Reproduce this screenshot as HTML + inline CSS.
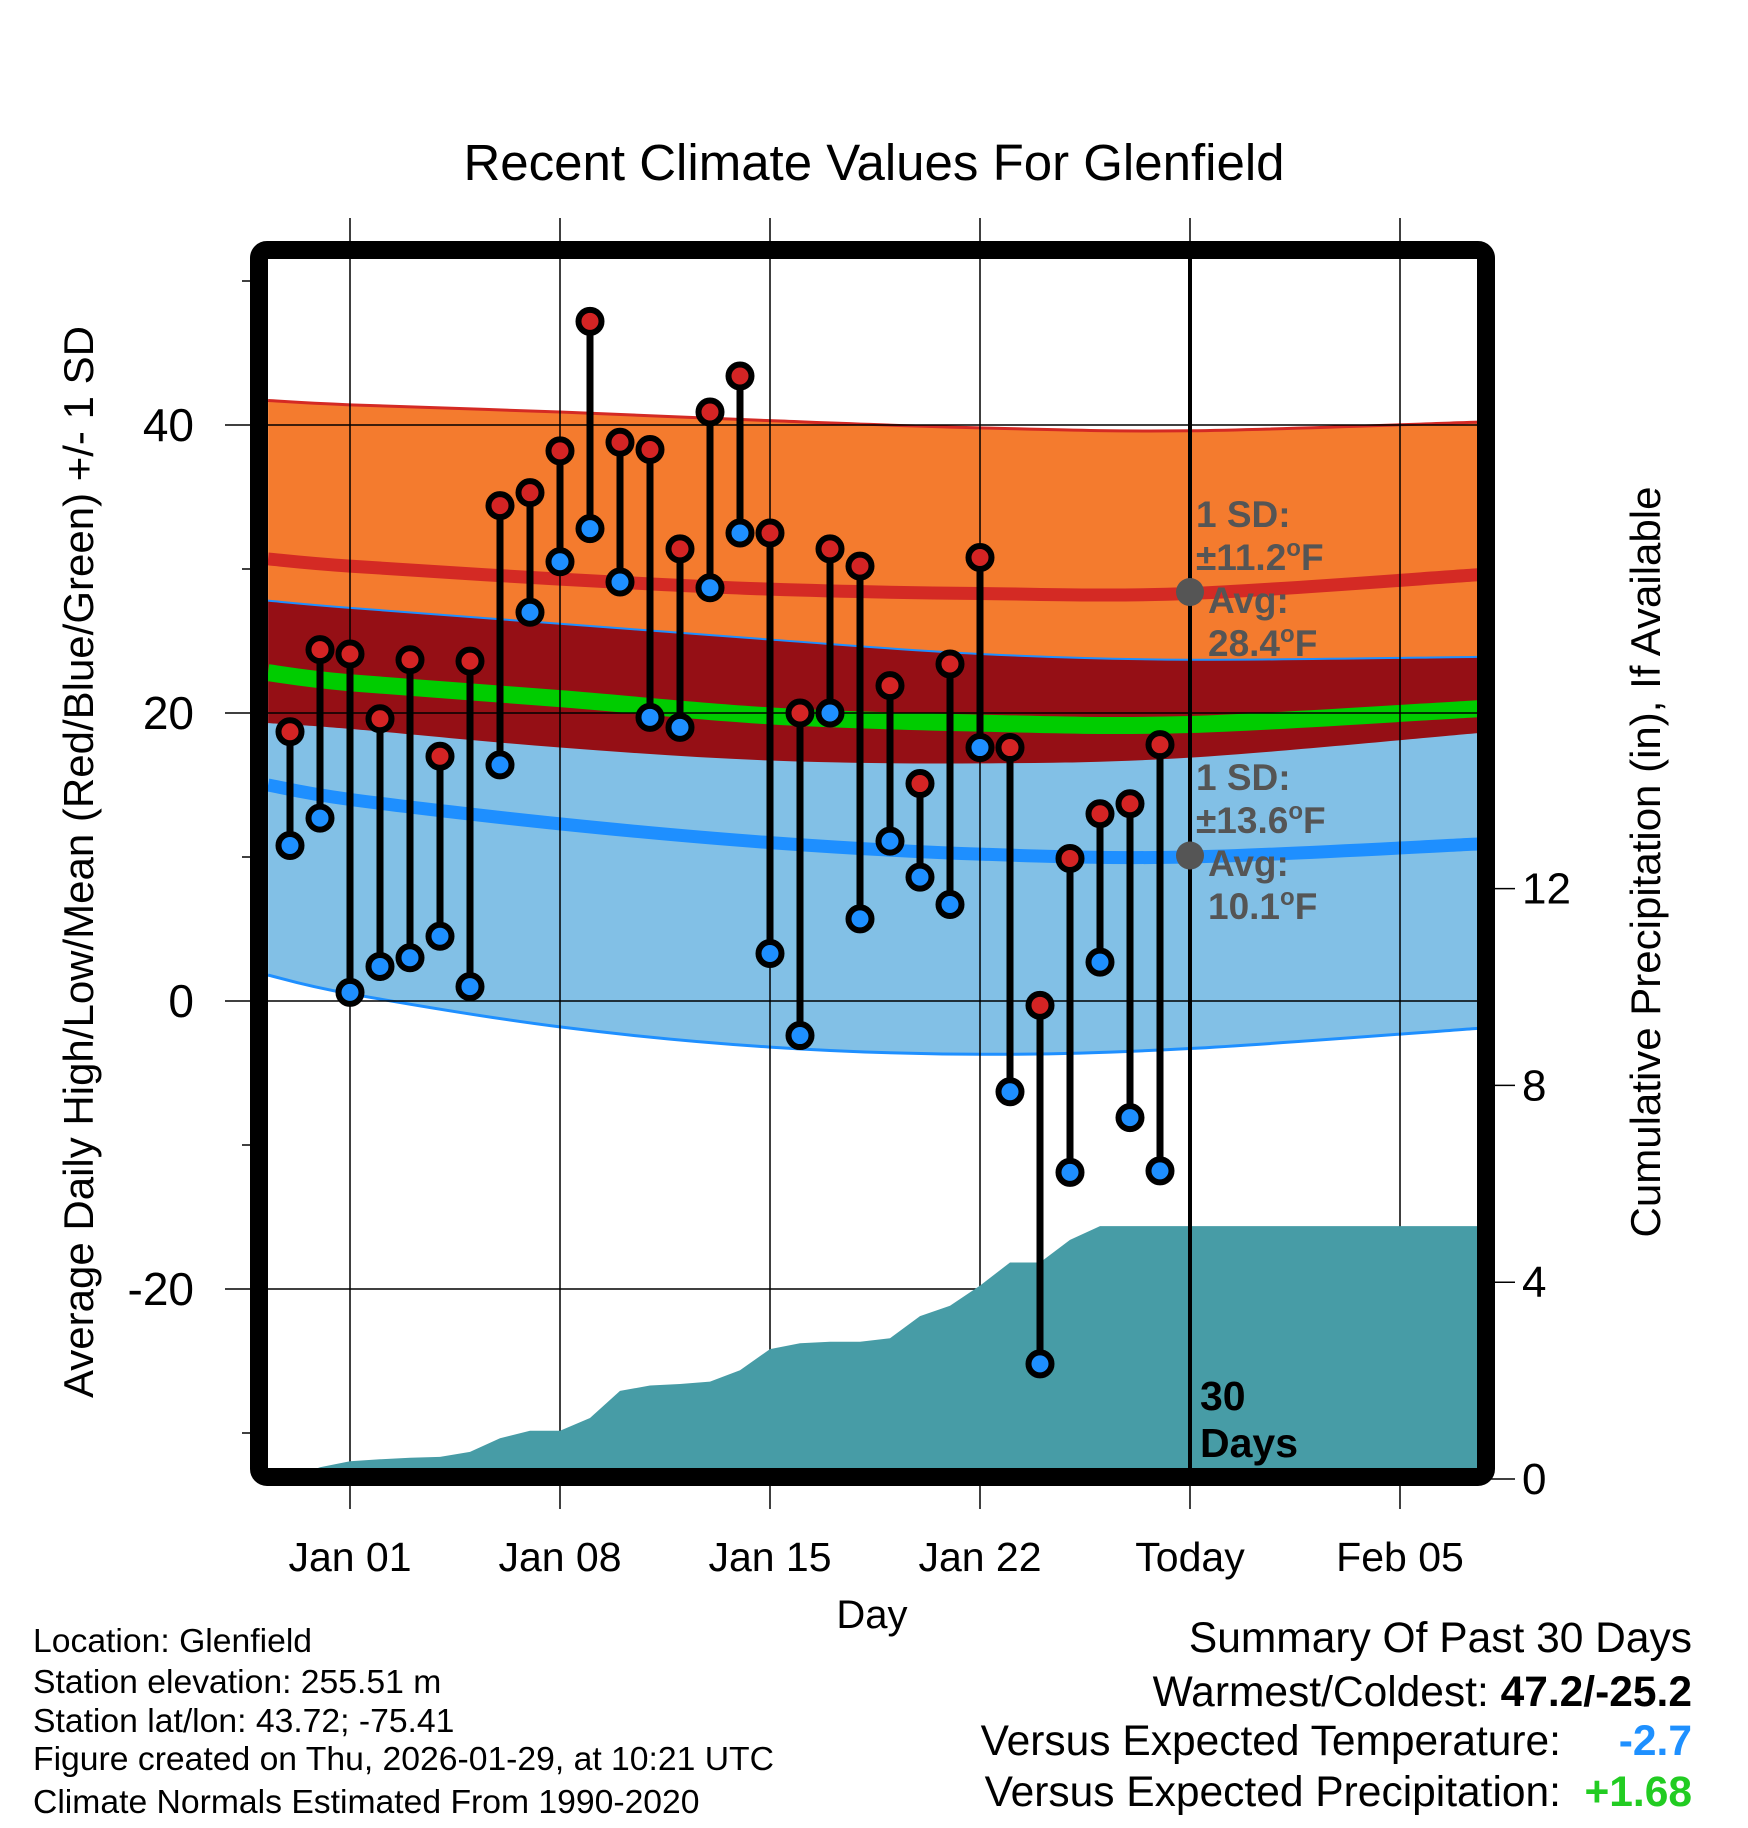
<!DOCTYPE html>
<html><head><meta charset="utf-8"><style>
html,body{margin:0;padding:0;background:#fff}
svg{display:block}
text{font-family:"Liberation Sans",sans-serif}
</style></head><body>
<svg id="chart" width="1748" height="1828" viewBox="0 0 1748 1828" xmlns="http://www.w3.org/2000/svg">
<defs><clipPath id="plotclip"><rect x="268" y="259" width="1210" height="1209"/></clipPath></defs>
<text x="874" y="180" font-size="51" text-anchor="middle">Recent Climate Values For Glenfield</text>
<g id="plot" clip-path="url(#plotclip)"></g>
<g id="over"></g>
<text transform="translate(93,862) rotate(-90)" font-size="42" text-anchor="middle">Average Daily High/Low/Mean (Red/Blue/Green) +/- 1 SD</text>
<text transform="translate(1660,862) rotate(-90)" font-size="42" text-anchor="middle">Cumulative Precipitation (in), If Available</text>
<text x="872" y="1628" font-size="40" text-anchor="middle">Day</text>
<g font-size="33.7">
<text x="33" y="1652">Location: Glenfield</text>
<text x="33" y="1693">Station elevation: 255.51 m</text>
<text x="33" y="1732">Station lat/lon: 43.72; -75.41</text>
<text x="33" y="1770">Figure created on Thu, 2026-01-29, at 10:21 UTC</text>
<text x="33" y="1813">Climate Normals Estimated From 1990-2020</text>
</g>
<g font-size="42.5">
<text x="1692" y="1652" text-anchor="end">Summary Of Past 30 Days</text>
<text x="1692" y="1706" text-anchor="end">Warmest/Coldest: <tspan font-weight="bold">47.2/-25.2</tspan></text>
<text x="1561" y="1755" text-anchor="end">Versus Expected Temperature:</text>
<text x="1692" y="1755" text-anchor="end" font-weight="bold" fill="#1e90ff">-2.7</text>
<text x="1561" y="1806" text-anchor="end">Versus Expected Precipitation:</text>
<text x="1692" y="1806" text-anchor="end" font-weight="bold" fill="#22cc22">+1.68</text>
</g>
</svg>
<script>
// ---- data ----
const dayOffsets = [-2,-1,0,1,2,3,4,5,6,7,8,9,10,11,12,13,14,15,16,17,18,19,20,21,22,23,24,25,26,27];
const highs = [18.7,24.4,24.1,19.6,23.7,17.0,23.6,34.4,35.3,38.2,47.2,38.8,38.3,31.4,40.9,43.4,32.5,20.0,31.4,30.2,21.9,15.1,23.4,30.8,17.6,-0.3,9.9,13.0,13.7,17.8];
const lows = [10.8,12.7,0.6,2.4,3.0,4.5,1.0,16.4,27.0,30.5,32.8,29.1,19.7,19.0,28.7,32.5,3.3,-2.4,20.0,5.7,11.1,8.6,6.7,17.6,-6.3,-25.2,-11.9,2.7,-8.1,-11.8];
const precipDays = [-2,-1,0,1,2,3,4,5,6,7,8,9,10,11,12,13,14,15,16,17,18,19,20,21,22,23,24,25,26,27,37.6];
const precipCum = [0.0,0.24,0.36,0.40,0.43,0.45,0.55,0.83,0.98,0.98,1.24,1.79,1.90,1.93,1.98,2.21,2.64,2.76,2.79,2.79,2.86,3.31,3.52,3.93,4.40,4.40,4.86,5.14,5.14,5.14,5.14];
const normDays = [-2.73,0,7,14,21,28,37.6];
const highPlus = [41.7,41.4,40.9,40.3,39.8,39.6,40.2];
const highAvg = [30.7,30.2,29.3,28.6,28.3,28.3,29.6];
const highMinus = [19.3,18.9,17.6,16.7,16.5,16.9,18.6];
const lowPlus = [27.8,27.3,26.2,25.1,24.1,23.7,23.9];
const meanAvg = [22.8,22.1,21.0,19.8,19.3,19.2,20.3];
const lowAvg = [15.0,14.0,12.3,11.0,10.2,10.0,10.9];
const lowMinus = [1.8,0.5,-1.8,-3.2,-3.7,-3.3,-1.9];
const xTickDays = [0,7,14,21,28,35];
const xTickLabels = ["Jan 01","Jan 08","Jan 15","Jan 22","Today","Feb 05"];
const yMajor = [40,20,0,-20];
const yMinor = [50,30,10,-10,-30];
const y2Ticks = [0,4,8,12];
const todayDay = 28;
const todayHighAvg = 28.4, todayLowAvg = 10.1;

// ---- scales ----
const X = d => 350 + d*30;
const Y = t => 1001 - t*14.4;
const Y2 = p => 1479 - p*49.2;
const NS = "http://www.w3.org/2000/svg";
const plot = document.getElementById('plot');
const over = document.getElementById('over');
const svg = document.getElementById('chart');
function mk(tag, attrs, parent){const e=document.createElementNS(NS,tag);for(const k in attrs)e.setAttribute(k,attrs[k]);parent.appendChild(e);return e;}
function smooth(xs, ys, fy){
  const p = xs.map((d,i)=>[X(d),fy(ys[i])]);
  let s = 'M'+p[0][0]+','+p[0][1];
  for(let i=0;i<p.length-1;i++){
    const p0=p[Math.max(0,i-1)],p1=p[i],p2=p[i+1],p3=p[Math.min(p.length-1,i+2)];
    const c1=[p1[0]+(p2[0]-p0[0])/6,p1[1]+(p2[1]-p0[1])/6];
    const c2=[p2[0]-(p3[0]-p1[0])/6,p2[1]-(p3[1]-p1[1])/6];
    s+=' C'+c1.join(',')+' '+c2.join(',')+' '+p2.join(',');
  }
  return s;
}
function band(upper, lower, fill, name){
  const top = smooth(normDays, upper, Y);
  const revD = normDays.slice().reverse(), revL = lower.slice().reverse();
  const bot = smooth(revD, revL, Y).replace(/^M/,' L');
  const e = mk('path',{d: top+bot+' Z', fill: fill}, plot);
  
  
}
function line(vals, color, w, name){
  const e = mk('path',{d: smooth(normDays, vals, Y), fill:'none', stroke:color, 'stroke-width':w}, plot);
  
  
}
band(highPlus, highMinus, '#f47b2e', 'high-sd-band');
band(lowPlus, lowMinus, '#82c0e6', 'low-sd-band');
band(lowPlus, highMinus, '#950f15', 'overlap-band');
line(highPlus, '#d42a24', 3, 'high-plus-sd-line');
line(highAvg, '#d42a24', 13, 'high-avg-line');
line(lowPlus, '#1e8fff', 2, 'low-plus-sd-line');
line(meanAvg, '#00cc00', 17, 'mean-avg-line');
line(lowAvg, '#1e8fff', 13, 'low-avg-line');
line(lowMinus, '#1e8fff', 3, 'low-minus-sd-line');

yMajor.forEach(v=>{
  const g = mk('line',{x1:225,x2:1478,y1:Y(v),y2:Y(v),stroke:'#000','stroke-width':1.5}, svg);
  
  
  svg.insertBefore(g, plot.nextSibling);
});
yMinor.forEach(v=>{
  const g = mk('line',{x1:242,x2:255,y1:Y(v),y2:Y(v),stroke:'#000','stroke-width':1.5}, svg);
  
  
});
xTickDays.forEach((d,i)=>{
  const g = mk('line',{x1:X(d),x2:X(d),y1:218,y2:1509,stroke:'#000','stroke-width':1.5}, svg);
  
  
  svg.insertBefore(g, plot.nextSibling);
  const t = mk('text',{x:X(d),y:1571,'font-size':41,'text-anchor':'middle'}, svg);
  t.textContent = xTickLabels[i];
  
  
});
yMajor.forEach(v=>{
  const t = mk('text',{x:194,y:Y(v)+16,'font-size':46,'text-anchor':'end'}, svg);
  t.textContent = String(v);
  
  
});
y2Ticks.forEach(v=>{
  const l = mk('line',{x1:1486,x2:1515,y1:Y2(v),y2:Y2(v),stroke:'#000','stroke-width':1.5}, svg);
  
  
  const t = mk('text',{x:1522,y:Y2(v)+15,'font-size':44}, svg);
  t.textContent = String(v);
  
  
});

const pg = document.createElementNS(NS,'g');
pg.setAttribute('clip-path','url(#plotclip)');
svg.insertBefore(pg, over);
{
  let d = 'M'+X(precipDays[0])+','+Y2(0);
  precipDays.forEach((dd,i)=>{ d += ' L'+X(dd).toFixed(1)+','+Y2(precipCum[i]).toFixed(1); });
  d += ' L'+X(precipDays[precipDays.length-1])+','+Y2(0)+' Z';
  const a = mk('path',{d:d, fill:'#479ca6'}, pg);
  
  
  const tl = mk('line',{x1:X(todayDay),x2:X(todayDay),y1:259,y2:1468,stroke:'#000','stroke-width':4}, pg);
  
  
}

{
  const f = mk('rect',{x:259,y:250,width:1227,height:1227,rx:8,fill:'none',stroke:'#000','stroke-width':18}, over);
  
  
}

dayOffsets.forEach((d,i)=>{
  const s = mk('line',{x1:X(d),x2:X(d),y1:Y(highs[i]),y2:Y(lows[i]),stroke:'#000','stroke-width':7}, over);
  
  
});
dayOffsets.forEach((d,i)=>{
  const h = mk('circle',{cx:X(d),cy:Y(highs[i]),r:11.5,fill:'#d42424',stroke:'#000','stroke-width':6}, over);
  
  
  const l = mk('circle',{cx:X(d),cy:Y(lows[i]),r:11.5,fill:'#1e8fff',stroke:'#000','stroke-width':6}, over);
  
  
});

[todayHighAvg, todayLowAvg].forEach(v=>{
  const c = mk('circle',{cx:X(todayDay),cy:Y(v),r:14,fill:'#555'}, over);
  
  
});

function ann(lines, x, y0, name){
  const g = mk('g',{'font-size':37,'font-weight':'bold',fill:'#555'}, over);
  
  
  lines.forEach((l,i)=>{
    const t = mk('text',{x:x+l[1], y:y0+i*43}, g);
    t.innerHTML = l[0];
  });
}
ann([["1 SD:",0],["±11.2<tspan font-size='24' dy='-14'>o</tspan><tspan dy='14'>F</tspan>",0],["Avg:",12],["28.4<tspan font-size='24' dy='-14'>o</tspan><tspan dy='14'>F</tspan>",12]], 1196, 527, 'high-annotation');
ann([["1 SD:",0],["±13.6<tspan font-size='24' dy='-14'>o</tspan><tspan dy='14'>F</tspan>",0],["Avg:",12],["10.1<tspan font-size='24' dy='-14'>o</tspan><tspan dy='14'>F</tspan>",12]], 1196, 790, 'low-annotation');
{
  const g = mk('g',{'font-size':41,'font-weight':'bold',fill:'#000'}, over);
  
  
  const a = mk('text',{x:1200,y:1410}, g); a.textContent='30';
  const b = mk('text',{x:1200,y:1457}, g); b.textContent='Days';
}
</script>
</body></html>
